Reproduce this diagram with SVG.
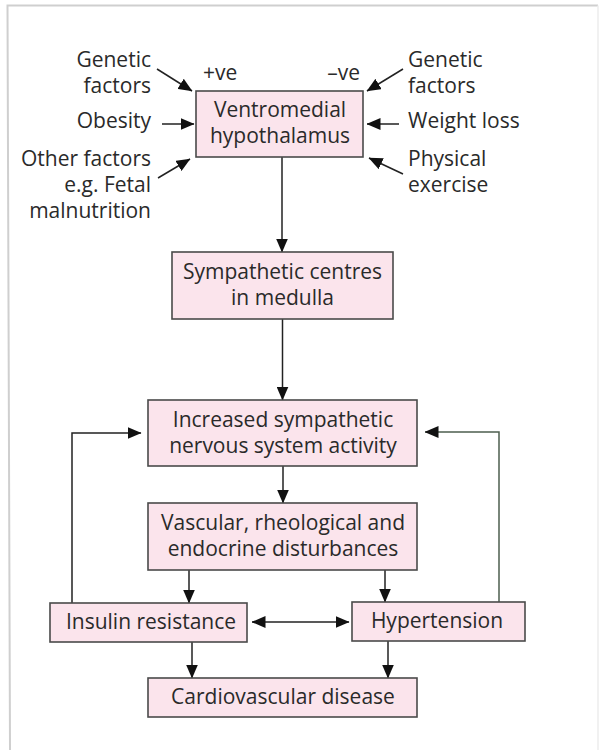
<svg xmlns="http://www.w3.org/2000/svg" width="600" height="750" viewBox="0 0 600 750">
<style>
  .box { fill: #fbe4ec; stroke: #4a4a4a; stroke-width: 1.6; }
  .t { font-family: "Open Sans", "Liberation Sans", sans-serif; font-size: 21px; fill: #2a2a2a; }
  .m { text-anchor: middle; }
  .e { text-anchor: end; }
  .s { text-anchor: start; }
  .ln { fill: none; stroke: #222; stroke-width: 1.5; marker-end: url(#ah); }
  .dbl { marker-start: url(#ah); }
  .green { stroke: #4d5f4f; }
</style>
<defs>
  <marker id="ah" markerUnits="userSpaceOnUse" markerWidth="14" markerHeight="12" refX="13.5" refY="6" orient="auto-start-reverse">
    <path d="M0,0 L14,6 L0,12 z" fill="#111"/>
  </marker>
</defs>
<rect width="600" height="750" fill="#ffffff"/>
<g id="frame" fill="none">
  <path d="M10,750 L7.5,5.5 L598,5.5" stroke="#cfcfcf" stroke-width="2"/>
  <path d="M598,5.5 L598,750" stroke="#ececec" stroke-width="1.5"/>
</g>

<g id="connectors">
  <line class="ln" x1="157" y1="69" x2="192" y2="91"/>
  <line class="ln" x1="162" y1="124" x2="194" y2="124"/>
  <line class="ln" x1="158" y1="178" x2="190" y2="159"/>
  <line class="ln" x1="403" y1="69" x2="367" y2="91"/>
  <line class="ln" x1="399" y1="124" x2="367" y2="124"/>
  <line class="ln" x1="403" y1="174" x2="369" y2="158"/>
  <line class="ln" x1="282" y1="157" x2="282" y2="252"/>
  <line class="ln" x1="282.5" y1="319" x2="282.5" y2="400"/>
  <line class="ln" x1="283" y1="466" x2="283" y2="503"/>
  <line class="ln" x1="189" y1="570" x2="189" y2="603"/>
  <line class="ln" x1="385" y1="570" x2="385" y2="602"/>
  <line class="ln" x1="192" y1="642" x2="192" y2="678"/>
  <line class="ln" x1="388" y1="641" x2="388" y2="678"/>
  <line class="ln dbl" x1="252" y1="622" x2="349" y2="622"/>
  <path class="ln" d="M72,603 V433 H141"/>
  <path class="ln green" d="M499,602 V432 H425"/>
</g>

<g id="labels-left">
  <text class="t e" x="151" y="67">Genetic</text>
  <text class="t e" x="151" y="93">factors</text>
  <text class="t e" x="151" y="128">Obesity</text>
  <text class="t e" x="151" y="166">Other factors</text>
  <text class="t e" x="151" y="192">e.g. Fetal</text>
  <text class="t e" x="151" y="218">malnutrition</text>
</g>
<g id="labels-right">
  <text class="t s" x="408" y="67">Genetic</text>
  <text class="t s" x="408" y="93">factors</text>
  <text class="t s" x="408" y="128">Weight loss</text>
  <text class="t s" x="408" y="166">Physical</text>
  <text class="t s" x="408" y="192">exercise</text>
</g>
<g id="signs">
  <text class="t s" x="203" y="80">+ve</text>
  <text class="t e" x="360" y="80">–ve</text>
</g>

<g id="ventromedial">
  <rect class="box" x="196" y="91" width="167" height="66"/>
  <text class="t m" x="280" y="117">Ventromedial</text>
  <text class="t m" x="280" y="143">hypothalamus</text>
</g>
<g id="sympathetic-centres">
  <rect class="box" x="172" y="252" width="221" height="67"/>
  <text class="t m" x="282.5" y="279">Sympathetic centres</text>
  <text class="t m" x="282.5" y="305">in medulla</text>
</g>
<g id="increased-sns">
  <rect class="box" x="148" y="400" width="269" height="66"/>
  <text class="t m" x="283" y="427">Increased sympathetic</text>
  <text class="t m" x="283" y="453">nervous system activity</text>
</g>
<g id="vascular">
  <rect class="box" x="148" y="503" width="269" height="67"/>
  <text class="t m" x="283" y="530">Vascular, rheological and</text>
  <text class="t m" x="283" y="556">endocrine disturbances</text>
</g>
<g id="insulin-resistance">
  <rect class="box" x="50" y="603" width="197" height="39"/>
  <text class="t m" x="151" y="629">Insulin resistance</text>
</g>
<g id="hypertension">
  <rect class="box" x="352" y="602" width="173" height="39"/>
  <text class="t m" x="437" y="628">Hypertension</text>
</g>
<g id="cardiovascular">
  <rect class="box" x="148" y="678" width="269" height="39"/>
  <text class="t m" x="283" y="704">Cardiovascular disease</text>
</g>
</svg>
